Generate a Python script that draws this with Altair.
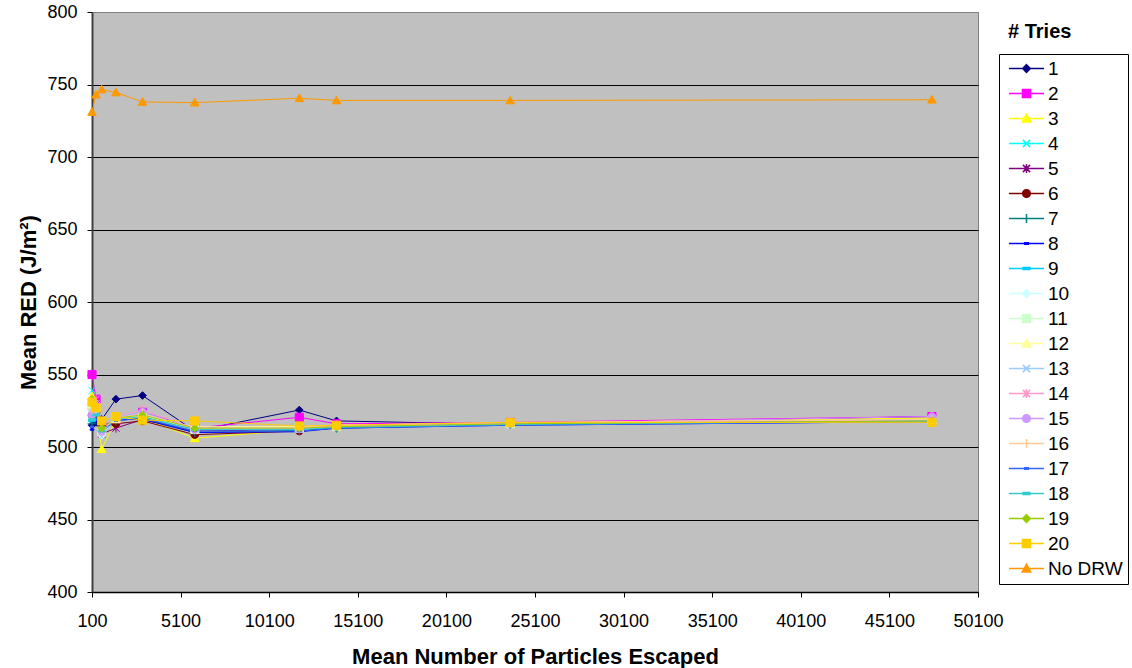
import altair as alt
import pandas as pd

# ---------------- data ----------------
x_particles = [100, 330, 650, 1450, 2950, 5900, 11800, 13900, 23700, 47500]

series_names = [str(i) for i in range(1, 21)] + ["No DRW"]

red_1 = [515, 517, 519, 533, 535.5, 511, 525.5, 518, 515.5, 521]
red_2 = [550, 533, 515, 518, 524, 513, 520.5, 516, 517, 521]
red_3 = [535, 527, 498.5, 519, 520, 506, 512, 514, 516.5, 520]
red_4 = [539, 530, 512, 520, 524, 512, 513, 514, 516, 518]
red_5 = [521, 520, 509, 513, 519, 511, 512, 514, 516, 518]
red_6 = [522, 524, 514, 516, 518, 508.5, 511, 513.5, 516, 518]
red_7 = [516, 521, 513, 518, 520, 510, 511.5, 513, 515.5, 518]
red_8 = [512, 518, 513, 519, 519, 510, 510.5, 513, 515, 517.5]
red_9 = [518, 523, 510, 519, 521, 512, 512, 514, 516, 518]
red_10 = [525, 526, 508, 520, 522, 513, 513, 514.5, 516, 518]
red_11 = [528, 527, 511, 520, 522, 512, 513, 514, 516, 518.5]
red_12 = [530, 529, 512, 519, 521, 514, 514, 515, 516.5, 518]
red_13 = [527, 525, 507, 520, 523, 513, 512, 514, 516, 518]
red_14 = [524, 533, 510, 521, 525.5, 513, 513, 514.5, 516.5, 518.5]
red_15 = [522, 528, 511, 520, 524, 512, 512.5, 514, 516, 521]
red_16 = [526, 527, 512, 520, 523, 513, 513.5, 515, 517, 519]
red_17 = [514, 519, 511, 518, 520, 511, 511, 513, 515, 517.5]
red_18 = [519, 522, 511, 519, 521, 512, 512, 513.5, 515.5, 518]
red_19 = [533, 528, 513, 520, 522, 513, 513, 514, 516, 518]
red_20 = [531, 527, 518, 521, 518.5, 518, 514.5, 515, 517, 517]
red_no_drw = [731, 743, 746.5, 744.5, 738, 737.5, 740.5, 739, 739, 739.5]

series_values = [red_1, red_2, red_3, red_4, red_5, red_6, red_7, red_8, red_9, red_10,
                 red_11, red_12, red_13, red_14, red_15, red_16, red_17, red_18, red_19,
                 red_20, red_no_drw]

series_colors = ["#000080", "#FF00FF", "#FFFF00", "#00FFFF", "#800080", "#800000",
                 "#008080", "#0000FF", "#00CCFF", "#CCFFFF", "#CCFFCC", "#FFFF99",
                 "#99CCFF", "#FF99CC", "#CC99FF", "#FFCC99", "#3366FF", "#33CCCC",
                 "#99CC00", "#FFCC00", "#FF9900"]

x_ticks = [100, 5100, 10100, 15100, 20100, 25100, 30100, 35100, 40100, 45100, 50100]
y_ticks = [400, 450, 500, 550, 600, 650, 700, 750, 800]

legend_title = "# Tries"
x_title = "Mean Number of Particles Escaped"
y_title = "Mean RED (J/m²)"

# ---------------- marker shapes (Excel style) ----------------
M_DIAMOND = "M0,-0.85L0.85,0L0,0.85L-0.85,0Z"
M_SQUARE = "M-0.9,-0.9L0.9,-0.9L0.9,0.9L-0.9,0.9Z"
M_TRIANGLE = "M0,-0.95L0.95,0.75L-0.95,0.75Z"
M_X = "M-0.8,-0.8L0.8,0.8M-0.8,0.8L0.8,-0.8"
M_STAR = "M-0.8,-0.8L0.8,0.8M-0.8,0.8L0.8,-0.8M0,-1L0,1"
M_CIRCLE = "M0.85,0A0.85,0.85,0,1,1,-0.85,0A0.85,0.85,0,1,1,0.85,0Z"
M_PLUS = "M-1,0L1,0M0,-1L0,1"
M_SDASH = "M-0.4,-0.15L0.4,-0.15L0.4,0.15L-0.4,0.15Z"
M_DASH = "M-0.75,-0.2L0.75,-0.2L0.75,0.2L-0.75,0.2Z"

series_markers = [M_DIAMOND, M_SQUARE, M_TRIANGLE, M_X, M_STAR, M_CIRCLE, M_PLUS,
                  M_SDASH, M_DASH, M_DIAMOND, M_SQUARE, M_TRIANGLE, M_X, M_STAR,
                  M_CIRCLE, M_PLUS, M_SDASH, M_DASH, M_DIAMOND, M_SQUARE, M_TRIANGLE]
legend_markers = ["M-3.9,0L3.9,0" + m for m in series_markers]

rows = []
for name, vals in zip(series_names, series_values):
    for xv, yv in zip(x_particles, vals):
        rows.append({"series": name, "particles": xv, "red": yv})
df = pd.DataFrame(rows)
legend_df = pd.DataFrame({"series": series_names})

FONT = "Liberation Sans"

x_enc = alt.X("particles:Q",
              scale=alt.Scale(domain=[100, 50100], nice=False, zero=False),
              axis=alt.Axis(values=x_ticks, format="d", grid=False, tickSize=5,
                            tickColor="black", domainColor="black", domainWidth=1.5,
                            labelFontSize=18, labelFont=FONT, labelColor="black",
                            labelPadding=15, labelFlush=False, labelOverlap=False,
                            title=x_title, titleFont=FONT, titleFontSize=22,
                            titleFontWeight="bold", titleColor="black", titlePadding=16))
y_enc = alt.Y("red:Q",
              scale=alt.Scale(domain=[400, 800], nice=False, zero=False),
              axis=alt.Axis(values=y_ticks, grid=True,
                            gridColor={"condition": {"test": "datum.value == 800", "value": "#808080"},
                                       "value": "black"},
                            gridWidth=1, tickSize=5,
                            tickColor="black", domainColor="#404040", domainWidth=2,
                            labelFontSize=18, labelFont=FONT, labelColor="black",
                            labelPadding=10, labelFlush=False, labelOverlap=False,
                            title=y_title, titleFont=FONT, titleFontSize=22,
                            titleFontWeight="bold", titleColor="black", titlePadding=6))

color_scale = alt.Scale(domain=series_names, range=series_colors)

lines = alt.Chart(df).mark_line(strokeWidth=1).encode(
    x=x_enc, y=y_enc,
    stroke=alt.Stroke("series:N", scale=color_scale, legend=None),
)

points = alt.Chart(df).mark_point(filled=True, size=81, strokeWidth=1, opacity=1).encode(
    x=x_enc, y=y_enc,
    fill=alt.Fill("series:N", scale=color_scale, legend=None),
    stroke=alt.Stroke("series:N", scale=color_scale, legend=None),
    shape=alt.Shape("series:N", scale=alt.Scale(domain=series_names, range=series_markers),
                    legend=None),
)

leg = dict(orient="none", legendX=907, legendY=42, title=None, strokeColor="black",
           fillColor="white", padding=5, symbolOffset=13, labelOffset=12,
           labelFontSize=19, labelFont=FONT, labelColor="black", rowPadding=5,
           symbolSize=81, symbolStrokeWidth=1.5)

legend_layer = alt.Chart(legend_df).mark_point(filled=True, size=81, strokeWidth=1.5,
                                               opacity=1).encode(
    x=alt.value(-2000), y=alt.value(-2000),
    fill=alt.Fill("series:N", scale=color_scale, legend=alt.Legend(**leg)),
    stroke=alt.Stroke("series:N", scale=color_scale, legend=alt.Legend(**leg)),
    shape=alt.Shape("series:N", scale=alt.Scale(domain=series_names, range=legend_markers),
                    legend=alt.Legend(**leg)),
)

title_text = alt.Chart(pd.DataFrame({"t": [legend_title]})).mark_text(
    align="left", baseline="alphabetic", font=FONT, fontSize=20, fontWeight="bold",
    color="black").encode(x=alt.value(916), y=alt.value(26), text="t:N")

chart = alt.layer(lines, points, legend_layer, title_text).resolve_scale(
    fill="independent", stroke="independent", shape="independent"
).properties(
    width=886, height=580,
    autosize=alt.AutoSizeParams(type="none"),
    padding={"left": 92, "top": 12, "right": 154, "bottom": 76},
    background="white",
).configure_view(fill="#C0C0C0", stroke="#808080", strokeWidth=1)

chart.save("out.html", embed_options={"renderer": "svg", "actions": False})
